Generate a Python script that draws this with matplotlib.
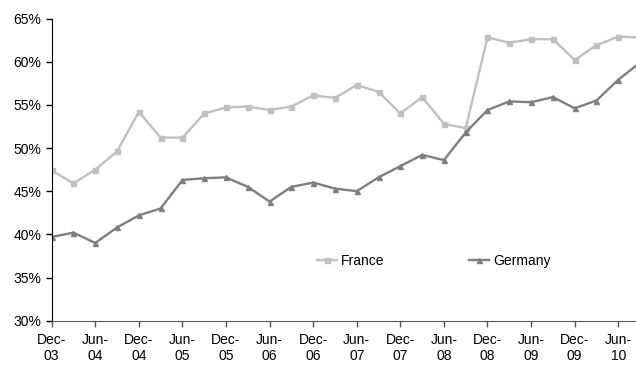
import matplotlib
matplotlib.use('Agg')
import matplotlib.pyplot as plt
from matplotlib.ticker import FuncFormatter

plt.rcParams['font.family'] = ['Liberation Sans', 'DejaVu Sans']

# quarterly, Dec-03 .. Sep-10
quarters = ['Dec-03', 'Mar-04', 'Jun-04', 'Sep-04', 'Dec-04', 'Mar-05', 'Jun-05',
            'Sep-05', 'Dec-05', 'Mar-06', 'Jun-06', 'Sep-06', 'Dec-06', 'Mar-07',
            'Jun-07', 'Sep-07', 'Dec-07', 'Mar-08', 'Jun-08', 'Sep-08', 'Dec-08',
            'Mar-09', 'Jun-09', 'Sep-09', 'Dec-09', 'Mar-10', 'Jun-10', 'Sep-10']
france = [47.4, 45.9, 47.5, 49.6, 54.2, 51.2, 51.2, 54.0, 54.7, 54.8, 54.4, 54.8,
          56.1, 55.8, 57.3, 56.5, 54.0, 55.9, 52.8, 52.3, 62.8, 62.2, 62.6, 62.6,
          60.2, 61.9, 62.9, 62.8]
germany = [39.7, 40.2, 39.0, 40.8, 42.2, 43.0, 46.3, 46.5, 46.6, 45.5, 43.8, 45.5,
           46.0, 45.3, 45.0, 46.6, 47.9, 49.2, 48.6, 51.8, 54.4, 55.4, 55.3, 55.9,
           54.6, 55.5, 57.9, 59.9]
tick_labels = [q.replace('-', '-\n') for q in quarters[::2]]

fig = plt.figure(figsize=(6.36, 3.65), dpi=100)
ax = fig.add_axes([51.7 / 636, 44.3 / 365, 1 - 51.7 / 636, 302.2 / 365])

x = list(range(len(quarters)))
ax.plot(x, france, color='#c0c0c0', lw=1.7, marker='s', ms=3.6, label='France')
ax.plot(x, germany, color='#7f7f7f', lw=1.7, marker='^', ms=3.6, label='Germany')

ax.set_ylim(30, 65)
ax.set_yticks(range(30, 66, 5))
ax.yaxis.set_major_formatter(FuncFormatter(lambda v, p: f'{v:.0f}%'))
ax.set_xlim(0, (636 - 51.7) / 21.79)
ax.set_xticks(x[::2])
ax.set_xticklabels(tick_labels, linespacing=1.2)

for s in ['top', 'right']:
    ax.spines[s].set_visible(False)
ax.spines['left'].set_color('black')
ax.spines['bottom'].set_color('#555555')
ax.tick_params(axis='both', labelsize=10, length=4, width=1, colors='black')
ax.tick_params(axis='x', color='#555555', pad=5)

fig.legend(loc='center left', bbox_to_anchor=(316.7 / 636, 1 - 260.7 / 365),
           ncol=2, frameon=False, fontsize=10, borderpad=0, borderaxespad=0,
           handlelength=1.45, handletextpad=0.3, columnspacing=6.1)

plt.savefig('out.png', dpi=100)
plt.close(fig)
